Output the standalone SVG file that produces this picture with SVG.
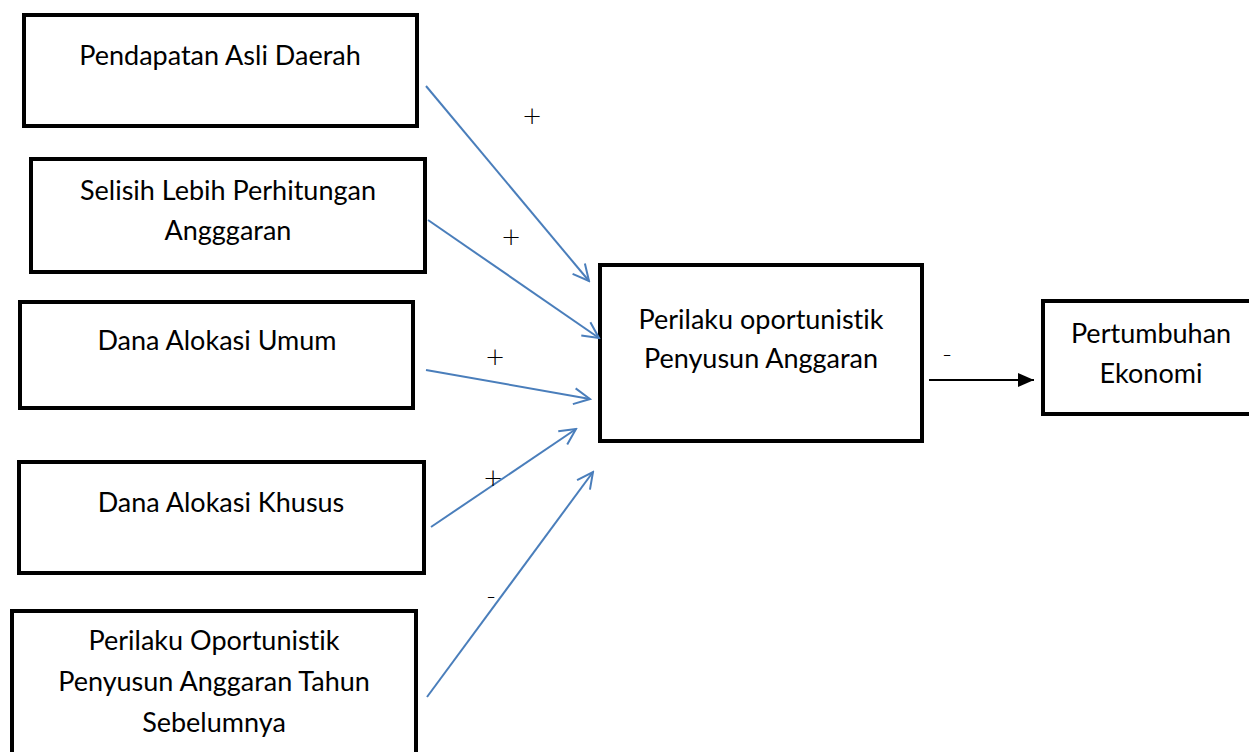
<svg xmlns="http://www.w3.org/2000/svg" width="1249" height="752" viewBox="0 0 1249 752">
<style>
.box{fill:#fff;stroke:#000;stroke-width:4;}
.t{font-family:Lato,"Open Sans","Liberation Sans",sans-serif;font-size:27px;fill:#000;text-anchor:middle;font-variant-ligatures:none;}
.c{stroke:#4a7ebb;stroke-width:2;fill:none;}
.k{stroke:#000;stroke-width:2;fill:none;}
.s{font-family:"DejaVu Sans",sans-serif;font-size:24px;font-weight:200;fill:#000;text-anchor:middle;}
</style>
<defs>
<marker id="open" viewBox="0 0 20 20" refX="18" refY="10" markerWidth="20" markerHeight="20" markerUnits="userSpaceOnUse" orient="auto">
<path d="M2,2 L18,10 L2,18" fill="none" stroke="#4a7ebb" stroke-width="2"/>
</marker>
<marker id="solid" viewBox="0 0 16 14" refX="16" refY="7" markerWidth="16" markerHeight="14" markerUnits="userSpaceOnUse" orient="auto">
<path d="M0,0 L16,7 L0,14 Z" fill="#000"/>
</marker>
</defs>
<rect width="1249" height="752" fill="#fff"/>
<g id="n1"><rect class="box" x="24" y="15" width="393" height="111"/><text class="t" x="220" y="65">Pendapatan Asli Daerah</text></g>
<g id="n2"><rect class="box" x="31" y="159" width="394" height="113"/><text class="t" x="228" y="200">Selisih Lebih Perhitungan</text><text class="t" x="228" y="240">Angggaran</text></g>
<g id="n3"><rect class="box" x="20" y="302" width="393" height="106"/><text class="t" x="217" y="350">Dana Alokasi Umum</text></g>
<g id="n4"><rect class="box" x="19" y="462" width="405" height="111"/><text class="t" x="221" y="512">Dana Alokasi Khusus</text></g>
<g id="n5"><rect class="box" x="12" y="611" width="404" height="150"/><text class="t" x="214" y="650">Perilaku Oportunistik</text><text class="t" x="214" y="691">Penyusun Anggaran Tahun</text><text class="t" x="214" y="732">Sebelumnya</text></g>
<g id="n6"><rect class="box" x="600" y="265" width="322" height="176"/><text class="t" x="761" y="329">Perilaku oportunistik</text><text class="t" x="761" y="368">Penyusun Anggaran</text></g>
<g id="n7"><rect class="box" x="1043" y="301" width="220" height="113"/><text class="t" x="1151" y="343">Pertumbuhan</text><text class="t" x="1151" y="383">Ekonomi</text></g>
<g id="connectors">
<line class="c" x1="426" y1="86" x2="589" y2="281" marker-end="url(#open)"/>
<line class="c" x1="428" y1="220" x2="599" y2="338" marker-end="url(#open)"/>
<line class="c" x1="426" y1="370" x2="590" y2="399" marker-end="url(#open)"/>
<line class="c" x1="431" y1="527" x2="576" y2="429" marker-end="url(#open)"/>
<line class="c" x1="427" y1="697" x2="593" y2="472" marker-end="url(#open)"/>
<line class="k" x1="929" y1="380" x2="1034" y2="380" marker-end="url(#solid)"/>
</g>
<g id="labels">
<text class="s" x="532" y="124">+</text>
<text class="s" x="511" y="245">+</text>
<text class="s" x="495" y="365">+</text>
<text class="s" x="493" y="486">+</text>
<text class="s" x="491" y="604">-</text>
<text class="s" x="947" y="362">-</text>
</g>
</svg>
